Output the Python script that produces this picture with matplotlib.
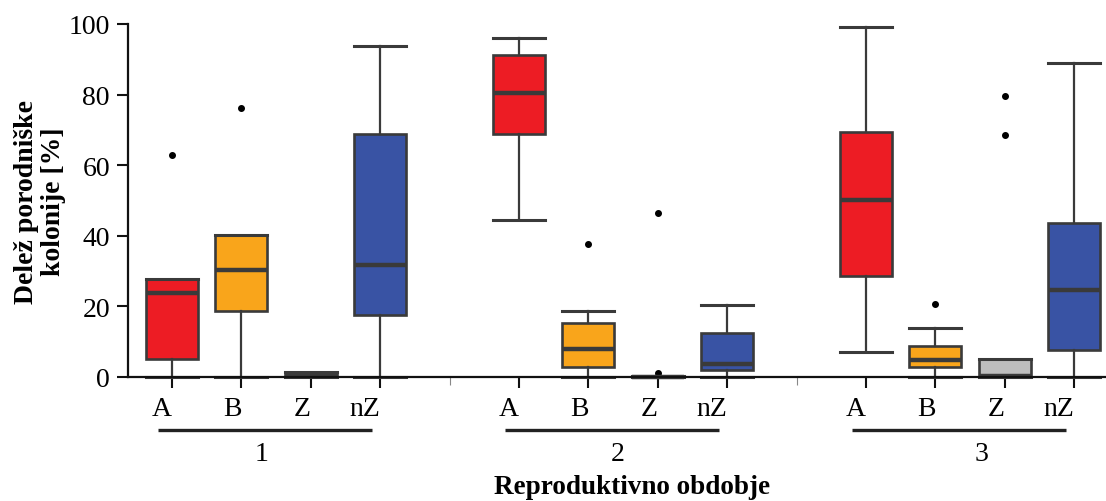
import matplotlib
matplotlib.use("Agg")
import matplotlib.pyplot as plt

plt.rcParams['font.family'] = ['Liberation Serif', 'DejaVu Serif']

# ---- data ----
categories = ["A", "B", "Z", "nZ"]
periods = ["1", "2", "3"]
positions = [1, 2, 3, 4, 6, 7, 8, 9, 11, 12, 13, 14]
tick_labels = categories * 3

q1 =     [5.2, 18.7, 0.0, 17.7,  68.7, 2.7, 0.0, 2.0,  28.6, 2.7, 0.0, 7.6]
median = [23.9, 30.3, 0.2, 31.8, 80.5, 7.9, 0.1, 3.6,  50.1, 4.7, 0.4, 24.6]
q3 =     [27.9, 40.2, 1.3, 68.8, 91.3, 15.4, 0.4, 12.6, 69.5, 8.8, 5.2, 43.5]
whislo = [0.0, 0.0, 0.0, 0.0,    44.4, 0.0, 0.0, 0.0,  7.1, 0.0, 0.0, 0.0]
whishi = [27.9, 40.2, 1.3, 93.7, 96.1, 18.8, 0.4, 20.3, 99.2, 14.0, 5.2, 88.9]
fliers = [[62.9], [76.1], [], [],
          [], [37.7], [46.6, 1.0], [],
          [], [20.8], [79.7, 68.6], []]

colors = ["#ED1C24", "#F9A51B", "#BEBEBE", "#3953A4"] * 3
edge = "#3a3a3a"

fig = plt.figure(figsize=(11.06, 5.02), dpi=100)
ax = fig.add_axes([128/1106, 1-378/502, (1106-128)/1106, (378-25)/502])

stats = []
for i in range(len(positions)):
    stats.append(dict(q1=q1[i], med=median[i], q3=q3[i], whislo=whislo[i],
                      whishi=whishi[i], fliers=fliers[i]))

bp = ax.bxp(stats, positions=positions, widths=0.75, patch_artist=True,
            showfliers=True,
            boxprops=dict(edgecolor=edge, linewidth=1.9),
            medianprops=dict(color=edge, linewidth=3.2, solid_capstyle='butt'),
            whiskerprops=dict(color=edge, linewidth=1.6),
            capprops=dict(color=edge, linewidth=2.2),
            capwidths=0.75,
            flierprops=dict(marker='o', markersize=4, markerfacecolor='black',
                            markeredgecolor='black', linestyle='none'))
for patch, c in zip(bp['boxes'], colors):
    patch.set_facecolor(c)
for key in bp:
    for art in bp[key]:
        art.set_clip_on(False)

ax.set_xlim(0.366, 14.46)
ax.set_ylim(0, 100)
ax.set_yticks([0, 20, 40, 60, 80, 100])
ax.set_yticklabels(["0", "20", "40", "60", "80", "100"])
ax.set_xticks(positions)
ax.set_xticklabels(tick_labels, ha='right')
ax.set_xticks([5, 10], minor=True)
ax.tick_params(axis='both', which='major', direction='out', length=8, width=1.5,
               labelsize=20, color='#111111')
ax.tick_params(axis='x', which='major', pad=6)
ax.tick_params(axis='y', which='major', pad=5)
ax.tick_params(axis='x', which='minor', direction='out', length=6, width=0.8,
               color='#888888')
for side in ['top', 'right']:
    ax.spines[side].set_visible(False)
for side in ['left', 'bottom']:
    ax.spines[side].set_linewidth(1.6)
    ax.spines[side].set_color('#111111')
    ax.spines[side].set_zorder(3)

# group annotations
trans = ax.get_xaxis_transform()
group_starts = [1, 6, 11]
group_label_x = [2.29, 7.43, 12.67]
for gs, lab, lx in zip(group_starts, periods, group_label_x):
    ax.plot([gs - 0.2, gs + 2.88], [-0.150, -0.150], transform=trans,
            color='#222222', linewidth=2.4, clip_on=False, solid_capstyle='butt')
    ax.text(lx, -0.218, lab, transform=trans, ha='center', va='center', fontsize=20)

fig.text(632/1106, 1-488/502, "Reproduktivno obdobje", ha='center', va='center',
         fontsize=19.5, fontweight='bold')
fig.text(40/1106, 1-202/502, "Delež porodniške\nkolonije [%]", ha='center', va='center',
         rotation=90, fontsize=20, fontweight='bold', multialignment='center',
         linespacing=1.1)

fig.savefig("out.png", dpi=100)
